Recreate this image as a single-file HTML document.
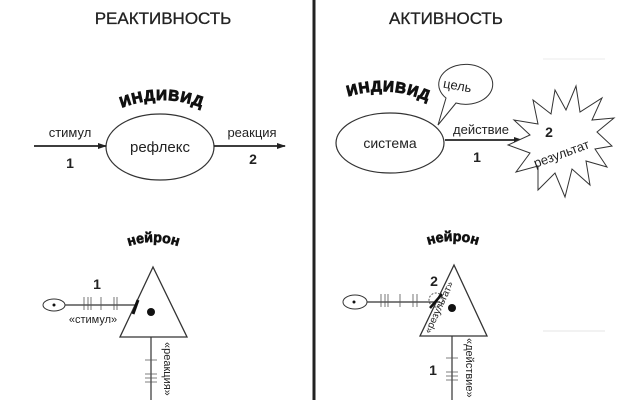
<html><body style="margin:0;background:#fff">
<svg width="640" height="400" xmlns="http://www.w3.org/2000/svg" font-family="Liberation Sans, sans-serif">
<rect width="640" height="400" fill="#fff"/>
<line x1="314" y1="0" x2="314" y2="400" stroke="#222" stroke-width="3"/>
<text x="163" y="24" font-size="17" text-anchor="middle" fill="#222" stroke="#222" stroke-width="0.3">РЕАКТИВНОСТЬ</text>
<text x="446" y="24" font-size="17" text-anchor="middle" fill="#222" stroke="#222" stroke-width="0.3">АКТИВНОСТЬ</text>
<defs><marker id="a" markerWidth="9" markerHeight="6" refX="8" refY="3" orient="auto" markerUnits="userSpaceOnUse"><path d="M0,0L9,3L0,6z" fill="#222"/></marker></defs>
<!-- left top -->
<path id="arcL" d="M112,112 Q162,88 212,112" fill="none"/>
<text font-size="15" font-weight="900" fill="#111" stroke="#111" stroke-width="1" letter-spacing="1"><textPath href="#arcL" startOffset="50%" text-anchor="middle">ИНДИВИД</textPath></text>
<ellipse cx="160" cy="147" rx="54" ry="33" fill="none" stroke="#333" stroke-width="1.2"/>
<text x="160" y="152" font-size="15" text-anchor="middle" fill="#222">рефлекс</text>
<line x1="34" y1="146" x2="106" y2="146" stroke="#222" stroke-width="1.8" marker-end="url(#a)"/>
<line x1="214" y1="146" x2="285" y2="146" stroke="#222" stroke-width="1.8" marker-end="url(#a)"/>
<text x="70" y="137" font-size="13" text-anchor="middle" fill="#222">стимул</text>
<text x="70" y="168" font-size="14" font-weight="bold" text-anchor="middle" fill="#222">1</text>
<text x="252" y="137" font-size="13" text-anchor="middle" fill="#222">реакция</text>
<text x="253" y="164" font-size="14" font-weight="bold" text-anchor="middle" fill="#222">2</text>
<!-- left neuron -->
<path id="arcN1" d="M115,252 Q153,232 192,252" fill="none"/>
<text font-size="14" font-weight="900" fill="#111" stroke="#111" stroke-width="0.7"><textPath href="#arcN1" startOffset="50%" text-anchor="middle">нейрон</textPath></text>
<polygon points="153,267 120,337 187,337" fill="none" stroke="#333" stroke-width="1.3"/>
<circle cx="151" cy="312" r="4" fill="#111"/>
<ellipse cx="54" cy="305" rx="11" ry="6" fill="none" stroke="#333"/>
<circle cx="54" cy="305" r="1.5" fill="#111"/>
<line x1="65" y1="305" x2="136" y2="305" stroke="#333" stroke-width="1.2"/>
<path d="M84,297v13M88,297v13M91,297v13M101,297v13M114,297v13M117,297v13" stroke="#555" stroke-width="0.8"/>
<line x1="133" y1="314" x2="138" y2="300" stroke="#111" stroke-width="3"/>
<text x="97" y="289" font-size="14" font-weight="bold" text-anchor="middle" fill="#222">1</text>
<text x="93" y="323" font-size="11" text-anchor="middle" fill="#222">«стимул»</text>
<line x1="151" y1="337" x2="151" y2="400" stroke="#333" stroke-width="1.2"/>
<path d="M145,360h12M145,374h12M145,378h12M145,382h12" stroke="#555" stroke-width="0.8"/>
<text transform="translate(164,342) rotate(90)" font-size="11" fill="#222">«реакция»</text>
<!-- right top -->
<path id="arcR" d="M338,100 Q388,80 438,106" fill="none"/>
<text font-size="15" font-weight="900" fill="#111" stroke="#111" stroke-width="1" letter-spacing="1"><textPath href="#arcR" startOffset="50%" text-anchor="middle">ИНДИВИД</textPath></text>
<path d="M438,125 L446,98 A27,20 0 1 1 456,103 Z" fill="#fff" stroke="#333"/>
<text x="457" y="90" font-size="13" text-anchor="middle" fill="#222" transform="rotate(10 457 88)">цель</text>
<ellipse cx="390" cy="143" rx="54" ry="30" fill="none" stroke="#333" stroke-width="1.2"/>
<text x="390" y="148" font-size="14" text-anchor="middle" fill="#222">система</text>
<line x1="445" y1="140" x2="522" y2="140" stroke="#222" stroke-width="1.8" marker-end="url(#a)"/>
<text x="481" y="134" font-size="13" text-anchor="middle" fill="#222">действие</text>
<text x="477" y="162" font-size="14" font-weight="bold" text-anchor="middle" fill="#222">1</text>
<polygon points="555,90 566,110 576,86 580,112 602,98 592,120 614,118 597,132 612,146 595,149 607,167 586,161 590,185 572,169 565,197 555,173 538,190 538,166 516,172 530,153 508,145 530,135 514,120 538,124 533,100 551,114" fill="#fff" stroke="#333"/>
<text x="549" y="137" font-size="14" font-weight="bold" text-anchor="middle" fill="#222">2</text>
<text x="562" y="158" font-size="13" text-anchor="middle" fill="#222" transform="rotate(-20 562 155)">результат</text>
<!-- right neuron -->
<path id="arcN2" d="M416,250 Q453,232 490,250" fill="none"/>
<text font-size="14" font-weight="900" fill="#111" stroke="#111" stroke-width="0.7"><textPath href="#arcN2" startOffset="50%" text-anchor="middle">нейрон</textPath></text>
<polygon points="454,265 420,336 487,336" fill="none" stroke="#333" stroke-width="1.3"/>
<circle cx="452" cy="308" r="4" fill="#111"/>
<ellipse cx="355" cy="302" rx="12" ry="7" fill="none" stroke="#333"/>
<circle cx="354" cy="302" r="1.5" fill="#111"/>
<line x1="367" y1="302" x2="440" y2="302" stroke="#333" stroke-width="1.2"/>
<path d="M381,294v13M385,294v13M388,294v13M400,294v13M413,294v13M417,294v13" stroke="#555" stroke-width="0.8"/>
<circle cx="436" cy="300" r="7" fill="none" stroke="#555" stroke-dasharray="2,1.5"/>
<line x1="430" y1="308" x2="442" y2="294" stroke="#111" stroke-width="2.5"/>
<text x="434" y="286" font-size="14" font-weight="bold" text-anchor="middle" fill="#222">2</text>
<text transform="translate(430,334) rotate(-65)" font-size="10" fill="#222">«результат»</text>
<line x1="452" y1="336" x2="452" y2="400" stroke="#333" stroke-width="1.2"/>
<path d="M446,358h12M446,372h12M446,376h12M446,380h12" stroke="#555" stroke-width="0.8"/>
<text x="433" y="375" font-size="14" font-weight="bold" text-anchor="middle" fill="#222">1</text>
<text transform="translate(466,338) rotate(90)" font-size="11" fill="#222">«действие»</text>
<line x1="543" y1="331" x2="605" y2="331" stroke="#ddd" stroke-width="0.8"/>
<line x1="543" y1="59" x2="605" y2="59" stroke="#e4e4e4" stroke-width="0.8"/>
</svg>
</body></html>
